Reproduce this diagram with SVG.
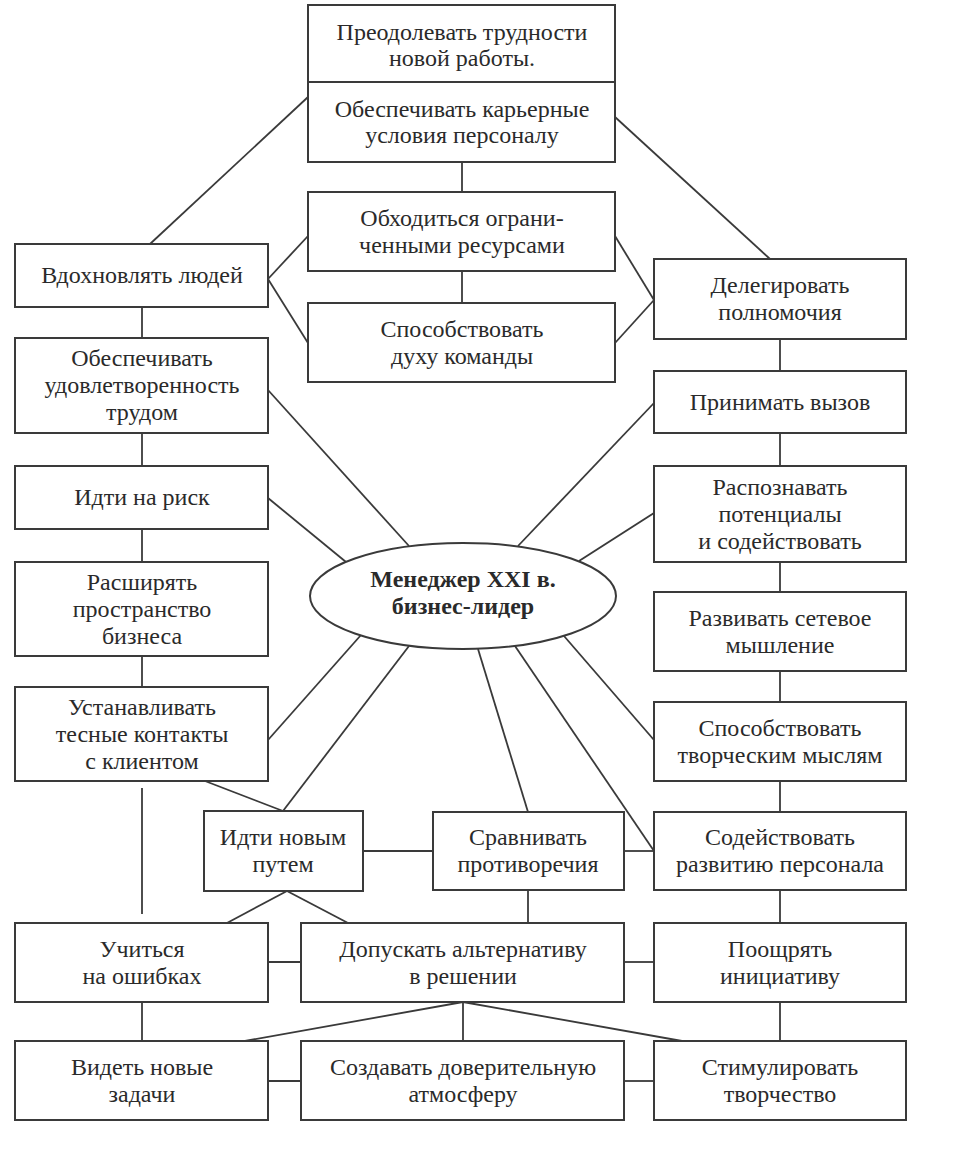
<svg xmlns="http://www.w3.org/2000/svg" width="956" height="1165" viewBox="0 0 956 1165">
<style>
  .box { fill: #ffffff; stroke: #3a3a3a; stroke-width: 2; }
  .ell { fill: #ffffff; stroke: #3a3a3a; stroke-width: 2; }
  .lbl { font-family: "Liberation Serif", "Times New Roman", serif; font-size: 24px; fill: #2a2a2a; text-anchor: middle; }
  .ctr { font-family: "Liberation Serif", "Times New Roman", serif; font-size: 24px; font-weight: bold; fill: #2a2a2a; text-anchor: middle; }
  .conn line { stroke: #3a3a3a; stroke-width: 1.8; fill: none; }
</style>
<rect width="956" height="1165" fill="#ffffff"/>

<g id="connectors" class="conn">
  <!-- top area -->
  <line x1="150" y1="244" x2="308" y2="97"/>
  <line x1="615" y1="117" x2="770" y2="259"/>
  <line x1="462" y1="162" x2="462" y2="192"/>
  <line x1="462" y1="271" x2="462" y2="303"/>
  <line x1="268" y1="279" x2="308" y2="236"/>
  <line x1="268" y1="279" x2="308" y2="343"/>
  <line x1="654" y1="300" x2="615" y2="236"/>
  <line x1="654" y1="300" x2="615" y2="343"/>
  <!-- left column verticals -->
  <line x1="142" y1="307" x2="142" y2="338"/>
  <line x1="142" y1="433" x2="142" y2="466"/>
  <line x1="142" y1="529" x2="142" y2="562"/>
  <line x1="142" y1="656" x2="142" y2="687"/>
  <line x1="142" y1="788" x2="142" y2="914"/>
  <line x1="142" y1="1002" x2="142" y2="1041"/>
  <!-- right column verticals -->
  <line x1="780" y1="339" x2="780" y2="371"/>
  <line x1="780" y1="433" x2="780" y2="466"/>
  <line x1="780" y1="562" x2="780" y2="592"/>
  <line x1="780" y1="671" x2="780" y2="702"/>
  <line x1="780" y1="781" x2="780" y2="812"/>
  <line x1="780" y1="890" x2="780" y2="923"/>
  <line x1="780" y1="1002" x2="780" y2="1041"/>
  <!-- spokes to ellipse -->
  <line x1="268" y1="390" x2="409" y2="546"/>
  <line x1="268" y1="498" x2="346" y2="562"/>
  <line x1="654" y1="403" x2="518" y2="546"/>
  <line x1="654" y1="513" x2="579" y2="561"/>
  <line x1="268" y1="740" x2="361" y2="635"/>
  <line x1="283" y1="811" x2="409" y2="646"/>
  <line x1="528" y1="812" x2="478" y2="649"/>
  <line x1="654" y1="851" x2="515" y2="646"/>
  <line x1="654" y1="740" x2="564" y2="636"/>
  <!-- lower area -->
  <line x1="205" y1="781" x2="283" y2="811"/>
  <line x1="363" y1="851" x2="433" y2="851"/>
  <line x1="624" y1="851" x2="654" y2="851"/>
  <line x1="287" y1="891" x2="227" y2="923"/>
  <line x1="287" y1="891" x2="348" y2="923"/>
  <line x1="528" y1="890" x2="528" y2="923"/>
  <line x1="268" y1="962" x2="301" y2="962"/>
  <line x1="624" y1="962" x2="654" y2="962"/>
  <line x1="463" y1="1002" x2="245" y2="1041"/>
  <line x1="463" y1="1002" x2="463" y2="1041"/>
  <line x1="463" y1="1002" x2="682" y2="1041"/>
  <line x1="268" y1="1081" x2="301" y2="1081"/>
  <line x1="624" y1="1081" x2="654" y2="1081"/>
</g>

<g id="n-preodolevat">
  <rect class="box" x="308" y="5" width="307" height="77"/>
  <text class="lbl" x="462" y="40">Преодолевать трудности</text>
  <text class="lbl" x="462" y="66">новой работы.</text>
</g>
<g id="n-kariernye">
  <rect class="box" x="308" y="82" width="307" height="80"/>
  <text class="lbl" x="462" y="117">Обеспечивать карьерные</text>
  <text class="lbl" x="462" y="143">условия персоналу</text>
</g>
<g id="n-obhoditsya">
  <rect class="box" x="308" y="192" width="307" height="79"/>
  <text class="lbl" x="462" y="226">Обходиться ограни-</text>
  <text class="lbl" x="462" y="253">ченными ресурсами</text>
</g>
<g id="n-duh-komandy">
  <rect class="box" x="308" y="303" width="307" height="79"/>
  <text class="lbl" x="462" y="337">Способствовать</text>
  <text class="lbl" x="462" y="364">духу команды</text>
</g>
<g id="n-vdohnovlyat">
  <rect class="box" x="15" y="244" width="253" height="63"/>
  <text class="lbl" x="142" y="283">Вдохновлять людей</text>
</g>
<g id="n-delegirovat">
  <rect class="box" x="654" y="259" width="252" height="80"/>
  <text class="lbl" x="780" y="293">Делегировать</text>
  <text class="lbl" x="780" y="320">полномочия</text>
</g>
<g id="n-udovletvorennost">
  <rect class="box" x="15" y="338" width="253" height="95"/>
  <text class="lbl" x="142" y="366">Обеспечивать</text>
  <text class="lbl" x="142" y="393">удовлетворенность</text>
  <text class="lbl" x="142" y="420">трудом</text>
</g>
<g id="n-prinimat">
  <rect class="box" x="654" y="371" width="252" height="62"/>
  <text class="lbl" x="780" y="410">Принимать вызов</text>
</g>
<g id="n-risk">
  <rect class="box" x="15" y="466" width="253" height="63"/>
  <text class="lbl" x="142" y="505">Идти на риск</text>
</g>
<g id="n-raspoznavat">
  <rect class="box" x="654" y="466" width="252" height="96"/>
  <text class="lbl" x="780" y="495">Распознавать</text>
  <text class="lbl" x="780" y="522">потенциалы</text>
  <text class="lbl" x="780" y="549">и содействовать</text>
</g>
<g id="n-rasshiryat">
  <rect class="box" x="15" y="562" width="253" height="94"/>
  <text class="lbl" x="142" y="590">Расширять</text>
  <text class="lbl" x="142" y="617">пространство</text>
  <text class="lbl" x="142" y="644">бизнеса</text>
</g>
<g id="n-setevoe">
  <rect class="box" x="654" y="592" width="252" height="79"/>
  <text class="lbl" x="780" y="626">Развивать сетевое</text>
  <text class="lbl" x="780" y="653">мышление</text>
</g>
<g id="n-ustanavlivat">
  <rect class="box" x="15" y="687" width="253" height="94"/>
  <text class="lbl" x="142" y="715">Устанавливать</text>
  <text class="lbl" x="142" y="742">тесные контакты</text>
  <text class="lbl" x="142" y="769">с клиентом</text>
</g>
<g id="n-tvorcheskim">
  <rect class="box" x="654" y="702" width="252" height="79"/>
  <text class="lbl" x="780" y="736">Способствовать</text>
  <text class="lbl" x="780" y="763">творческим мыслям</text>
</g>
<g id="n-center">
  <ellipse class="ell" cx="463" cy="596" rx="153" ry="53"/>
  <text class="ctr" x="463" y="587">Менеджер XXI в.</text>
  <text class="ctr" x="463" y="614">бизнес-лидер</text>
</g>
<g id="n-novym-putem">
  <rect class="box" x="204" y="811" width="159" height="80"/>
  <text class="lbl" x="283" y="845">Идти новым</text>
  <text class="lbl" x="283" y="872">путем</text>
</g>
<g id="n-sravnivat">
  <rect class="box" x="433" y="812" width="191" height="78"/>
  <text class="lbl" x="528" y="845">Сравнивать</text>
  <text class="lbl" x="528" y="872">противоречия</text>
</g>
<g id="n-razvitiyu">
  <rect class="box" x="654" y="812" width="252" height="78"/>
  <text class="lbl" x="780" y="845">Содействовать</text>
  <text class="lbl" x="780" y="872">развитию персонала</text>
</g>
<g id="n-uchitsya">
  <rect class="box" x="15" y="923" width="253" height="79"/>
  <text class="lbl" x="142" y="957">Учиться</text>
  <text class="lbl" x="142" y="984">на ошибках</text>
</g>
<g id="n-dopuskat">
  <rect class="box" x="301" y="923" width="323" height="79"/>
  <text class="lbl" x="463" y="957">Допускать альтернативу</text>
  <text class="lbl" x="463" y="984">в решении</text>
</g>
<g id="n-pooshchryat">
  <rect class="box" x="654" y="923" width="252" height="79"/>
  <text class="lbl" x="780" y="957">Поощрять</text>
  <text class="lbl" x="780" y="984">инициативу</text>
</g>
<g id="n-videt">
  <rect class="box" x="15" y="1041" width="253" height="79"/>
  <text class="lbl" x="142" y="1075">Видеть новые</text>
  <text class="lbl" x="142" y="1102">задачи</text>
</g>
<g id="n-sozdavat">
  <rect class="box" x="301" y="1041" width="323" height="79"/>
  <text class="lbl" x="463" y="1075">Создавать доверительную</text>
  <text class="lbl" x="463" y="1102">атмосферу</text>
</g>
<g id="n-stimulirovat">
  <rect class="box" x="654" y="1041" width="252" height="79"/>
  <text class="lbl" x="780" y="1075">Стимулировать</text>
  <text class="lbl" x="780" y="1102">творчество</text>
</g>
</svg>
